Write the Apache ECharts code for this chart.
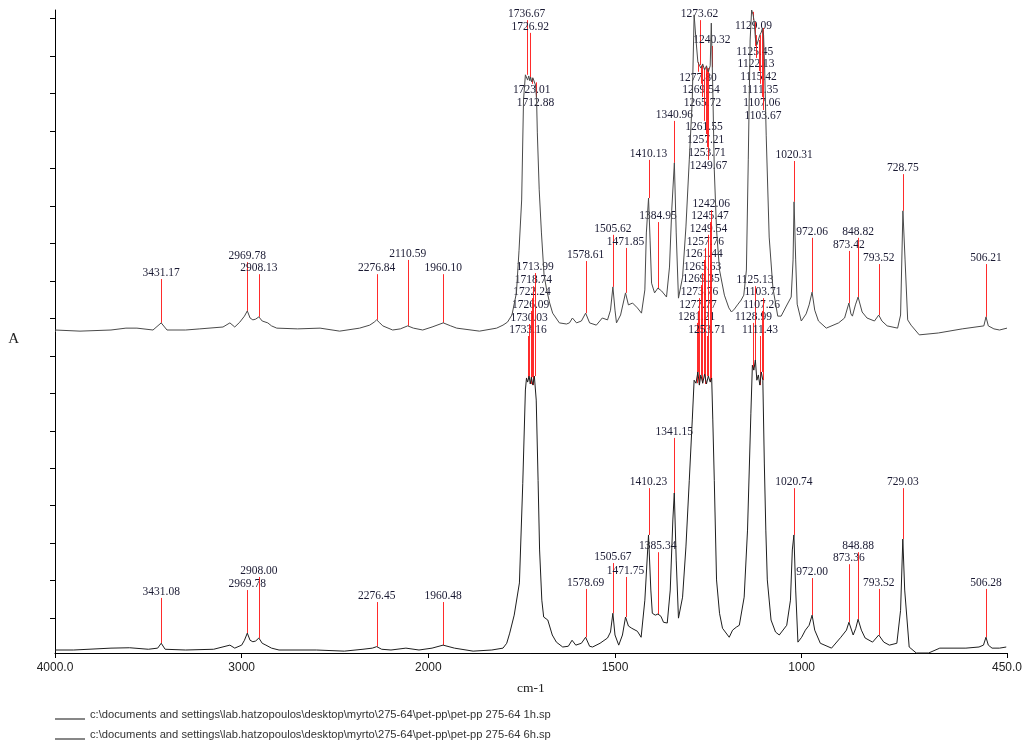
<!DOCTYPE html>
<html>
<head>
<meta charset="utf-8">
<script src="https://cdn.jsdelivr.net/npm/echarts@6/dist/echarts.min.js"></script>
<style>html,body{margin:0;padding:0;background:#fff}#chart{width:1025px;height:742px}</style>
</head>
<body>
<div id="chart"></div>
<script>
// ---------- data (wavenumber in cm-1, absorbance in arbitrary axis units) ----------
const seriesNames = [
  'c:\\documents and settings\\lab.hatzopoulos\\desktop\\myrto\\275-64\\pet-pp\\pet-pp 275-64 1h.sp',
  'c:\\documents and settings\\lab.hatzopoulos\\desktop\\myrto\\275-64\\pet-pp\\pet-pp 275-64 6h.sp'
];

const xTickWn = [4000, 3000, 2000, 1500, 1000, 450];
const xTickLabels = ['4000.0', '3000', '2000', '1500', '1000', '450.0'];
const yTicks = [1,2,3,4,5,6,7,8,9,10,11,12,13,14,15,16,17];

const upperWn = [4000,3866,3700,3620,3561,3475,3431,3400,3300,3224,3100,3063,3037,3010,2985,2969.78,2955,2940,2925,2908,2890,2860,2840,2812,2700,2580,2475,2368,2314,2290,2276.84,2260,2244,2191,2150,2110.59,2080,2030,1990,1960.10,1940,1924,1863,1817,1800,1788,1776,1764,1757,1750,1745,1740,1737,1734,1731,1728,1726,1723,1720,1716,1713,1710,1708,1703,1697,1690,1683,1675,1667,1649,1630,1622,1614,1603,1590,1578.61,1568,1550,1534,1520,1512,1505.62,1500,1496,1485,1471.85,1464,1453,1440,1429,1420,1416,1410.13,1406,1402,1394,1385,1375,1362,1354,1348,1340.96,1336,1330,1319,1310,1301,1293,1288,1283,1278,1274,1270,1265,1260,1255,1250,1245,1242,1238,1234,1228,1220,1207,1195,1188,1180,1172,1162,1155,1148,1143,1138,1134,1130,1127,1124,1120,1116,1112,1108,1105,1102,1099,1095,1087,1077,1064,1055,1041,1028,1023,1020.31,1016,1012,1001,988,980,972.06,965,955,934,901,885,873.42,868,864,856,848.82,838,825,805,793.52,785,771,743,735,728.75,723,716,707,685,634,570,512,506.21,500,485,470,450];
const upperAbs = [8.69,8.66,8.69,8.74,8.74,8.69,8.88,8.69,8.69,8.72,8.77,8.88,8.77,8.90,9.06,9.20,9.01,8.96,8.98,9.04,8.93,8.88,8.80,8.74,8.72,8.74,8.66,8.74,8.82,8.90,8.96,8.88,8.80,8.69,8.72,8.80,8.74,8.69,8.77,8.88,8.80,8.74,8.66,8.74,8.82,8.90,9.09,9.68,10.82,12.16,14.83,15.50,15.52,15.36,15.47,15.34,15.44,15.31,15.42,15.47,15.23,14.83,13.95,12.43,11.28,10.16,9.76,9.41,9.14,8.88,8.85,8.88,9.01,8.88,8.93,9.14,8.88,8.82,9.01,8.96,9.22,9.84,9.22,8.88,9.09,9.68,9.36,9.41,9.28,9.14,9.76,11.28,12.21,11.09,9.94,9.68,9.81,9.73,9.57,10.37,11.89,13.15,11.28,9.54,10.10,11.44,13.23,14.83,17.10,16.43,15.84,15.76,15.68,15.79,15.63,15.74,15.58,15.74,16.88,15.10,12.96,11.36,10.29,9.62,9.28,9.17,9.25,9.36,9.49,9.62,10.29,13.23,16.43,17.23,17.10,16.91,16.48,16.30,16.43,16.56,16.64,16.75,16.56,15.63,13.89,11.17,9.81,9.06,9.06,9.33,9.57,10.56,12.11,10.56,9.38,8.93,9.12,9.36,9.70,9.22,8.93,8.74,8.88,9.01,9.41,9.12,9.06,9.36,9.57,9.17,9.01,8.93,9.09,8.93,8.80,8.74,9.09,11.87,10.56,8.96,8.82,8.56,8.61,8.72,8.80,9.04,8.80,8.72,8.69,8.74];

const lowerWn = [4000,3900,3700,3600,3500,3450,3431,3410,3300,3150,3063,3037,3000,2985,2969.78,2955,2940,2925,2908,2890,2870,2840,2800,2600,2450,2350,2300,2276.45,2250,2200,2120,2050,1990,1960.48,1930,1880,1830,1800,1790,1782,1770,1756,1747,1740,1737,1734,1730,1727,1724,1720,1716,1711,1706,1702,1696,1691,1680,1668,1657,1640,1625,1615,1605,1590,1578.69,1568,1560,1540,1520,1512,1505.67,1500,1490,1480,1471.75,1464,1455,1440,1430,1420,1410.23,1404,1400,1392,1385,1377,1370,1360,1352,1345,1341.15,1336,1330,1319,1310,1301,1293,1288,1283,1278,1274,1270,1265,1260,1255,1250,1245,1241,1238,1234,1228,1220,1212,1194,1185,1175,1167,1154,1145,1136,1132,1128,1124,1120,1116,1112,1108,1104,1100,1096,1092,1082,1070,1060,1040,1030,1025,1020.74,1016,1010,1000,990,980,972.00,965,950,920,895,880,873.36,862,855,848.88,840,830,810,793.52,780,765,745,735,729.03,724,712,693,660,630,560,525,513,506.28,500,490,470,452];
const lowerAbs = [0.15,0.15,0.20,0.21,0.17,0.20,0.33,0.17,0.15,0.17,0.28,0.20,0.28,0.41,0.60,0.41,0.37,0.39,0.47,0.33,0.28,0.20,0.15,0.15,0.12,0.17,0.20,0.24,0.17,0.15,0.20,0.15,0.20,0.28,0.20,0.12,0.15,0.20,0.33,0.60,1.08,1.94,4.60,7.09,7.41,7.30,7.46,7.25,7.43,7.22,7.46,6.82,4.68,2.82,1.48,1.03,0.95,0.55,0.36,0.23,0.25,0.41,0.28,0.33,0.49,0.25,0.23,0.33,0.47,0.63,1.13,0.55,0.28,0.55,1.03,0.79,0.73,0.65,0.49,1.48,3.22,1.75,1.13,1.08,1.11,1.05,0.89,0.87,1.75,3.62,4.34,2.55,1.00,1.56,2.90,4.68,6.29,7.35,7.27,7.57,7.22,7.49,7.27,7.51,7.25,7.46,7.30,7.41,6.29,4.68,2.02,1.13,0.73,0.49,0.68,0.76,0.81,1.56,3.35,6.47,7.75,7.62,7.89,7.35,7.49,7.22,7.57,7.35,5.14,3.35,2.02,0.95,0.63,0.55,0.81,1.48,2.82,3.22,1.75,0.36,0.49,0.68,0.81,1.08,0.68,0.33,0.20,0.49,0.68,0.89,0.55,0.73,0.97,0.68,0.47,0.36,0.55,0.36,0.28,0.33,1.21,3.11,1.75,0.23,0.07,0.07,0.20,0.20,0.23,0.28,0.49,0.28,0.20,0.20,0.23];

// peak annotations: wavenumber, absorbance at the peak, height of the label
const upperPeakWn = [3431.17,2969.78,2908.13,2276.84,2110.59,1960.10,1736.67,1726.92,1723.01,1712.88,1578.61,1505.62,1471.85,1410.13,1384.95,1340.96,1273.62,1240.32,1277.80,1269.54,1265.72,1261.55,1257.21,1253.71,1249.67,1129.09,1125.45,1122.13,1115.42,1111.35,1107.06,1103.67,1020.31,972.06,873.42,848.82,793.52,728.75,506.21];
const upperPeakAbs = [8.88,9.20,9.04,8.96,8.80,8.88,15.50,15.44,15.42,15.30,9.14,9.84,9.68,12.21,9.78,13.15,15.76,15.70,15.84,15.74,15.79,15.68,15.74,15.63,15.68,17.18,16.91,16.56,16.43,16.56,16.70,16.75,12.11,9.70,9.41,9.57,9.09,11.87,9.04];
const upperLabelAbs = [10.21,10.66,10.34,10.34,10.72,10.34,17.12,16.78,15.10,14.75,10.69,11.39,11.04,13.39,11.73,14.43,17.12,16.43,15.42,15.10,14.75,14.11,13.76,13.41,13.07,16.80,16.11,15.79,15.44,15.10,14.75,14.40,13.36,11.31,10.96,11.31,10.61,13.01,10.61];

const lowerPeakWn = [3431.08,2969.78,2908.00,2276.45,1960.48,1733.16,1730.03,1726.09,1722.24,1718.74,1713.99,1578.69,1505.67,1471.75,1410.23,1385.34,1341.15,1281.21,1277.77,1273.76,1269.35,1265.63,1261.44,1257.76,1253.71,1249.54,1245.47,1242.06,1128.99,1125.13,1111.43,1107.26,1103.71,1020.74,972.00,873.36,848.88,793.52,729.03,506.28];
const lowerPeakAbs = [0.33,0.60,0.47,0.24,0.28,7.41,7.46,7.25,7.43,7.22,7.46,0.49,1.13,1.03,3.22,1.11,4.34,7.27,7.57,7.22,7.49,7.27,7.51,7.25,7.46,7.46,7.30,7.41,7.62,7.89,7.22,7.57,7.35,3.22,1.08,0.89,0.97,0.55,3.11,0.49];
const lowerLabelAbs = [1.70,1.91,2.26,1.59,1.59,8.69,9.01,9.36,9.70,10.02,10.37,1.94,2.63,2.26,4.63,2.92,5.97,9.04,9.36,9.70,10.05,10.37,10.72,11.04,8.69,11.39,11.73,12.05,9.04,10.02,8.69,9.36,9.70,4.63,2.23,2.60,2.92,1.94,4.63,1.94];

// ---------- axis transform: 4000-2000 compressed 2x, 2000-450 expanded ----------
function toX(w) { return w > 2000 ? 2000 + (w - 2000) / 2 : w; }
const xTickPos = xTickWn.map(toX);

function lineSeries(name, wn, ab, color) {
  return {
    name: name, type: 'line', z: 3, showSymbol: false, symbol: 'none', clip: false,
    silent: true, animation: false,
    lineStyle: { color: color, width: 1 }, itemStyle: { color: color },
    data: wn.map((w, i) => [toX(w), ab[i]])
  };
}

function peakSeries(wn, pk, lab) {
  return {
    type: 'custom', coordinateSystem: 'cartesian2d', z: 2, clip: false, silent: true, animation: false,
    data: wn.map((w, i) => [toX(w), pk[i], lab[i], w]),
    encode: { x: 0, y: [1, 2] },
    renderItem: function (params, api) {
      const p = api.coord([api.value(0), api.value(1)]);
      const l = api.coord([api.value(0), api.value(2)]);
      const x = Math.round(p[0]) + 0.5;
      const half = 6;
      const children = [];
      const above = l[1] < p[1];
      const yEnd = above ? l[1] + half : l[1] - half;
      if ((above && yEnd < p[1]) || (!above && yEnd > p[1])) {
        children.push({ type: 'line', shape: { x1: x, y1: p[1], x2: x, y2: yEnd },
          style: { stroke: 'rgba(255,20,20,0.9)', lineWidth: 1 } });
      }
      children.push({ type: 'text', x: p[0], y: l[1],
        style: { text: Number(api.value(3)).toFixed(2), fill: '#1a1a33',
          font: '11.5px "Liberation Serif"', align: 'center', verticalAlign: 'middle' } });
      return { type: 'group', children: children };
    }
  };
}

// legend icon: an underline drawn at the bottom of a 30x10 box
const underlineIcon = 'path://M0,0L30,0M0,9L30,9L30,10L0,10Z';

function legendFor(name, top) {
  return {
    orient: 'vertical', left: 55, top: top, padding: 0, itemWidth: 30, itemHeight: 10, itemGap: 0,
    icon: underlineIcon, selectedMode: false, data: [name],
    itemStyle: { color: '#111' },
    textStyle: { fontFamily: 'Liberation Sans', fontSize: 11.2, color: '#333', lineHeight: 13 }
  };
}

const chart = echarts.init(document.getElementById('chart'), null, { renderer: 'canvas' });
chart.setOption({
  animation: false,
  backgroundColor: '#fff',
  grid: { left: 55, right: 17, top: 10, bottom: 89 },
  legend: [legendFor(seriesNames[0], 708), legendFor(seriesNames[1], 728)],
  xAxis: {
    type: 'value', inverse: true, min: 450, max: 3000,
    name: 'cm-1', nameLocation: 'middle', nameGap: 28,
    nameTextStyle: { fontFamily: 'Liberation Serif', fontSize: 13.5, color: '#222' },
    axisLine: { lineStyle: { color: '#000', width: 1 } },
    axisTick: { customValues: xTickPos, length: 5, lineStyle: { color: '#000' } },
    axisLabel: { customValues: xTickPos, margin: 9, fontFamily: 'Liberation Sans', fontSize: 12, color: '#222',
      showMinLabel: true, showMaxLabel: true,
      formatter: function (v) { const i = xTickPos.indexOf(v); return i >= 0 ? xTickLabels[i] : ''; } },
    splitLine: { show: false }
  },
  yAxis: {
    type: 'value', min: 0.07, max: 17.23,
    name: 'A', nameLocation: 'middle', nameRotate: 0, nameGap: 36,
    nameTextStyle: { fontFamily: 'Liberation Serif', fontSize: 15, color: '#222', verticalAlign: 'top' },
    axisLine: { show: true, lineStyle: { color: '#000', width: 1 } },
    axisTick: { show: true, customValues: yTicks, length: 5, lineStyle: { color: '#000' } },
    axisLabel: { show: false },
    splitLine: { show: false }
  },
  series: [
    peakSeries(upperPeakWn, upperPeakAbs, upperLabelAbs),
    peakSeries(lowerPeakWn, lowerPeakAbs, lowerLabelAbs),
    lineSeries(seriesNames[0], upperWn, upperAbs, '#4a4a4a'),
    lineSeries(seriesNames[1], lowerWn, lowerAbs, '#1e1e1e')
  ]
});
</script>
</body>
</html>
